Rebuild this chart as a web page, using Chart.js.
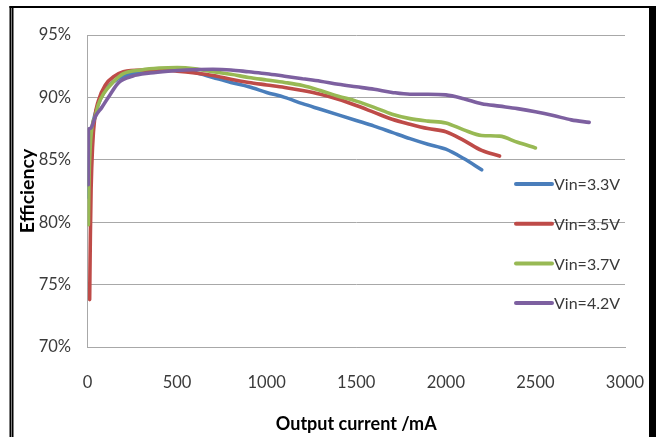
<!DOCTYPE html>
<html>
<head>
<meta charset="utf-8">
<script src="https://cdn.jsdelivr.net/npm/chart.js@4.4.1/dist/chart.umd.min.js"></script>
<style>
	html, body { margin: 0; padding: 0; background: #fff; }
	#wrap { width: 656px; height: 437px; position: relative; }
</style>
</head>
<body>
<div id="wrap"><canvas id="effChart" width="656" height="437"></canvas></div>
<script>

// Efficiency vs output current (mA, %)

const seriesLabels = ["Vin=3.3V", "Vin=3.5V", "Vin=3.7V", "Vin=4.2V"];
const seriesColors = ["#4A7EBB", "#BE4B48", "#98B954", "#7D60A0"];

const current33 = [5, 12, 25, 45, 70, 100, 140, 200, 300, 400, 500, 600, 700, 800, 900, 1000, 1100, 1200, 1300, 1400, 1500, 1600, 1700, 1800, 1900, 2000, 2100, 2200];
const eff33 = [82.0, 85.5, 87.5, 88.8, 89.8, 90.6, 91.2, 91.7, 92.0, 92.15, 92.2, 92.0, 91.6, 91.2, 90.85, 90.4, 90.0, 89.5, 89.05, 88.6, 88.15, 87.7, 87.2, 86.7, 86.25, 85.85, 85.1, 84.2];

const current35 = [12, 16, 20, 28, 40, 60, 100, 150, 200, 300, 400, 500, 600, 700, 800, 900, 1000, 1100, 1200, 1300, 1400, 1500, 1600, 1700, 1800, 1900, 2000, 2100, 2200, 2300];
const eff35 = [73.8, 79.0, 82.6, 86.0, 88.3, 89.7, 91.0, 91.7, 92.05, 92.2, 92.2, 92.1, 91.95, 91.75, 91.45, 91.2, 91.0, 90.8, 90.55, 90.25, 89.85, 89.35, 88.8, 88.25, 87.85, 87.5, 87.25, 86.55, 85.75, 85.3];

const current37 = [5, 8, 15, 30, 42, 60, 90, 145, 200, 300, 400, 500, 600, 700, 800, 900, 1000, 1100, 1200, 1300, 1400, 1500, 1600, 1700, 1800, 1900, 2000, 2100, 2200, 2300, 2400, 2500];
const eff37 = [79.8, 83.0, 86.0, 88.0, 88.4, 89.4, 90.3, 91.25, 91.9, 92.2, 92.35, 92.4, 92.3, 92.05, 91.85, 91.6, 91.4, 91.2, 90.95, 90.55, 90.1, 89.7, 89.2, 88.65, 88.3, 88.1, 87.95, 87.4, 86.95, 86.9, 86.4, 85.95];

const current42 = [4, 5, 12, 22, 45, 80, 125, 175, 250, 350, 450, 550, 700, 800, 900, 1000, 1100, 1200, 1300, 1400, 1500, 1600, 1700, 1800, 1900, 2000, 2100, 2200, 2300, 2400, 2500, 2600, 2700, 2800];
const eff42 = [83.0, 87.4, 87.5, 87.6, 88.5, 89.2, 90.2, 91.2, 91.7, 91.95, 92.1, 92.2, 92.25, 92.2, 92.05, 91.9, 91.7, 91.5, 91.3, 91.05, 90.85, 90.65, 90.4, 90.25, 90.25, 90.2, 89.9, 89.5, 89.3, 89.1, 88.85, 88.55, 88.2, 88.0];

const xTicks = [0, 500, 1000, 1500, 2000, 2500, 3000];
const yTicks = [70, 75, 80, 85, 90, 95];

const allCurrents = [current33, current35, current37, current42];
const allEffs = [eff33, eff35, eff37, eff42];

const FONT = "Lato, 'Open Sans', sans-serif";


// Build datasets

let datasets = seriesLabels.map((label, i) => {
	return {
		label: label,
		data: allCurrents[i].map((x, k) => ({ x: x, y: allEffs[i][k] })),
		borderColor: seriesColors[i],
		backgroundColor: seriesColors[i],
		borderWidth: 3.6,
		pointRadius: 0,
		cubicInterpolationMode: 'monotone',
		borderCapStyle: 'round',
		borderJoinStyle: 'round',
		// last series on top, like the original
		order: seriesLabels.length - i
	};
});


// Page frame and legend drawn inside the plot

const framePlugin = {
	id: 'frame',
	beforeDraw(chart){
		const ctx = chart.ctx;
		ctx.save();
		ctx.fillStyle = '#fff';
		ctx.fillRect(0, 0, chart.width, chart.height);
		ctx.fillStyle = '#000';
		ctx.fillRect(9.5, 6, 2, chart.height - 6);
		ctx.fillRect(12, 6, 1.5, chart.height - 6);
		ctx.fillRect(9.5, 6, chart.width - 9.5, 2);
		ctx.fillRect(649, 6, 7, chart.height - 6);
		ctx.restore();
	}
};

const insideLegend = {
	id: 'insideLegend',
	afterDraw(chart){
		const ctx = chart.ctx;
		const area = chart.chartArea;
		let x0 = area.right - 109;
		let y0 = area.top + 149;
		ctx.save();
		ctx.font = "16px " + FONT;
		ctx.textBaseline = 'middle';
		ctx.textAlign = 'left';
		chart.data.datasets.forEach((ds, i) => {
			let y = y0 + i * 39.7;
			ctx.strokeStyle = ds.borderColor;
			ctx.lineWidth = 4;
			ctx.lineCap = 'round';
			ctx.beginPath();
			ctx.moveTo(x0, y);
			ctx.lineTo(x0 + 36, y);
			ctx.stroke();
			ctx.fillStyle = '#3a3a3a';
			ctx.fillText(ds.label, x0 + 38, y + 1);
		});
		ctx.restore();
	}
};


const chartCtx = document.getElementById('effChart').getContext('2d');
new Chart(chartCtx, {
	type: 'line',
	data: { datasets: datasets },
	plugins: [framePlugin, insideLegend],
	options: {
		responsive: false,
		animation: false,
		devicePixelRatio: 1,
		layout: { padding: { left: 14, top: 35, right: 31, bottom: 0 } },
		plugins: {
			legend: { display: false },
			tooltip: { enabled: false },
			title: { display: false }
		},
		scales: {
			x: {
				type: 'linear',
				min: 0,
				max: 3000,
				afterFit(scale){
					scale.height = 90;
					scale.paddingLeft = 0;
					scale.paddingRight = 0;
				},
				afterBuildTicks(scale){ scale.ticks = xTicks.map(v => ({ value: v })); },
				grid: { display: false, drawTicks: false },
				border: { display: true, color: '#a8a8a8', width: 1 },
				ticks: {
					padding: 26,
					color: '#3a3a3a',
					font: { family: FONT, size: 16.5 },
					maxRotation: 0,
					callback: v => String(v)
				},
				title: {
					display: true,
					text: 'Output current /mA',
					color: '#000',
					font: { family: FONT, size: 18, weight: 'bold' },
					padding: { top: 0, bottom: 2 }
				}
			},
			y: {
				type: 'linear',
				min: 70,
				max: 95,
				afterFit(scale){
					scale.width = 73.5;
					scale.paddingTop = 0;
					scale.paddingBottom = 0;
				},
				afterBuildTicks(scale){ scale.ticks = yTicks.map(v => ({ value: v })); },
				grid: { color: '#a8a8a8', lineWidth: 1, drawTicks: false },
				border: { display: true, color: '#a8a8a8', width: 1 },
				ticks: {
					padding: 16.5,
					color: '#3a3a3a',
					font: { family: FONT, size: 16.5 },
					callback: v => v + '%'
				},
				title: {
					display: true,
					text: 'Efficiency',
					color: '#000',
					font: { family: FONT, size: 19.5, weight: 'bold' },
					padding: { top: 2, bottom: 0 }
				}
			}
		}
	}
});

</script>
</body>
</html>
